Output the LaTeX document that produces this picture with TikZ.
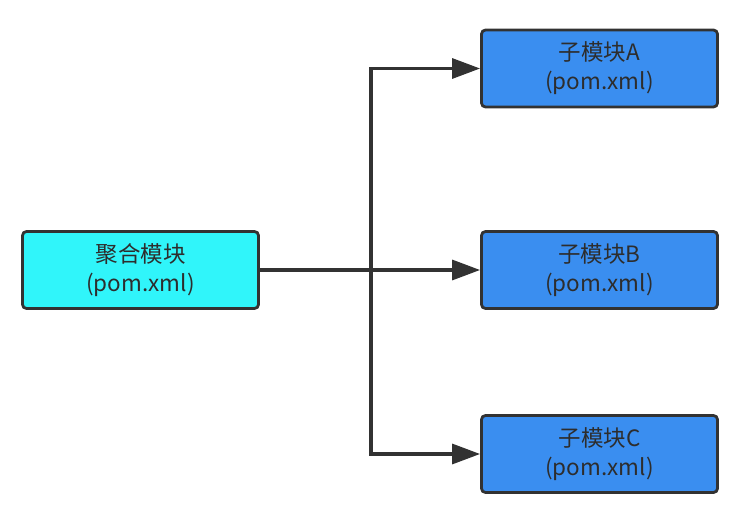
\documentclass[tikz,border=0pt]{standalone}
\usepackage{fontspec}
\setmainfont{Noto Sans CJK SC}
\usetikzlibrary{arrows.meta}
\definecolor{aggfill}{RGB}{48,245,250}
\definecolor{subfill}{RGB}{58,142,240}
\definecolor{edge}{RGB}{50,50,50}
\definecolor{txt}{RGB}{45,45,45}
\tikzset{
  mod/.style={draw=edge, line width=2.8pt, rounded corners=4pt, minimum width=236pt, minimum height=77pt, align=center, text=txt, font=\fontsize{22.5}{29}\selectfont, inner sep=0pt},
  agg/.style={mod, fill=aggfill},
  sub/.style={mod, fill=subfill},
  conn/.style={draw=edge, line width=3.2pt, -{Triangle[length=28pt,width=20pt]}}
}
\begin{document}
\begin{tikzpicture}[x=1pt,y=-1pt]
\useasboundingbox (0,0) rectangle (750,524);
\node[agg] (L) at (140.5,270) {聚合模块\\(pom.xml)};
\node[sub] (A) at (599.5,68.5) {子模块A\\(pom.xml)};
\node[sub] (B) at (599.5,270) {子模块B\\(pom.xml)};
\node[sub] (C) at (599.5,454) {子模块C\\(pom.xml)};
\coordinate (J) at (371,270);
\draw[conn] (L.east) -- (J) |- (A.west);
\draw[conn] (L.east) -- (B.west);
\draw[conn] (L.east) -- (J) |- (C.west);
\end{tikzpicture}
\end{document}
